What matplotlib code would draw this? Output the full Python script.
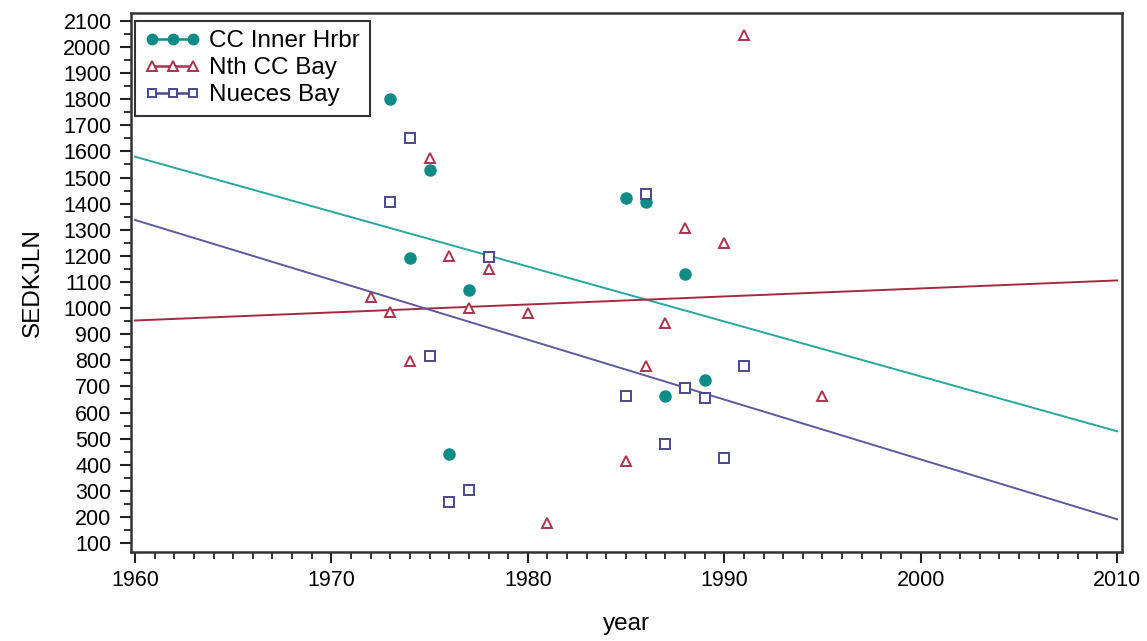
import numpy as np
import matplotlib
matplotlib.use("Agg")
import matplotlib.pyplot as plt
from matplotlib.ticker import MultipleLocator

plt.rcParams['font.family'] = ['Liberation Sans', 'DejaVu Sans']

# --- data ---
cc_year = [1973, 1975, 1974, 1977, 1976, 1985, 1986, 1988, 1989, 1987]
cc_val = [1800, 1530, 1192, 1070, 441, 1422, 1407, 1131, 725, 663]

nth_year = [1972, 1973, 1974, 1975, 1976, 1977, 1978, 1980, 1981, 1985, 1986, 1987, 1988, 1990, 1991, 1995]
nth_val = [1043, 985, 797, 1575, 1200, 1000, 1150, 981, 177, 414, 778, 943, 1307, 1249, 2046, 663]

nb_year = [1974, 1973, 1978, 1975, 1976, 1977, 1985, 1986, 1987, 1988, 1989, 1990, 1991]
nb_val = [1652, 1407, 1195, 816, 257, 303, 663, 1437, 479, 694, 656, 426, 778]

series_names = ["CC Inner Hrbr", "Nth CC Bay", "Nueces Bay"]
x_ticks = [1960, 1970, 1980, 1990, 2000, 2010]
y_ticks = list(range(100, 2101, 100))

teal = "#0F8C87"
red = "#A8354E"
blue = "#4A4A8C"
teal_line = "#27A79C"
red_line = "#A52A40"
blue_line = "#5C5A9E"

fig = plt.figure(figsize=(11.47, 6.41), dpi=100)
ax = fig.add_axes([131/1147, 1-552/641, (1122-131)/1147, (552-13)/641])

fs = 15.5

xs = np.array([1960, 2010])
for yr, v, lc in [(cc_year, cc_val, teal_line), (nth_year, nth_val, red_line), (nb_year, nb_val, blue_line)]:
    m, b = np.polyfit(yr, v, 1)
    ax.plot(xs, m*xs + b, color=lc, lw=1.4, zorder=2)

ax.plot(cc_year, cc_val, ls='none', marker='o', ms=8, color=teal, mec=teal, zorder=3)
ax.plot(nth_year, nth_val, ls='none', marker='^', ms=7, mfc='white', mec=red, mew=1.4, zorder=3)
ax.plot(nb_year, nb_val, ls='none', marker='s', ms=7, mfc='white', mec=blue, mew=1.4, zorder=3)

# legend proxies
h1, = ax.plot([], [], color=teal, marker='o', ms=7.5, lw=1.8)
h2, = ax.plot([], [], color=red, marker='^', ms=7, mfc='white', mew=1.4, lw=1.8)
h3, = ax.plot([], [], color=blue, marker='s', ms=6, mfc='white', mew=1.4, lw=1.8)
leg = ax.legend([h1, h2, h3], series_names, loc='upper left', numpoints=3,
                bbox_to_anchor=(0.004, 0.986), fontsize=17.5, frameon=True, fancybox=False,
                borderpad=0.4, labelspacing=0.2, handlelength=2.3, handletextpad=0.35,
                borderaxespad=0, edgecolor='black')
leg.get_frame().set_linewidth(1.5)

ax.set_xlim(1959.8, 2010.25)
ax.set_ylim(66, 2130)
ax.set_xticks(x_ticks)
ax.set_yticks(y_ticks)
ax.xaxis.set_minor_locator(MultipleLocator(1))
ax.yaxis.set_minor_locator(MultipleLocator(50))
ax.tick_params(axis='both', which='major', length=8, width=1.5, labelsize=fs, color='#222222')
ax.tick_params(axis='y', which='major', pad=6)
ax.tick_params(axis='x', which='major', pad=5)
ax.tick_params(axis='both', which='minor', length=5, width=1.3, color='#222222')
for s in ax.spines.values():
    s.set_linewidth(1.8)
    s.set_color('#333333')

ax.set_xlabel("year", fontsize=17.5, labelpad=16)
ax.set_ylabel("SEDKJLN", fontsize=17.5, labelpad=14)

fig.savefig("out.png", dpi=100)
